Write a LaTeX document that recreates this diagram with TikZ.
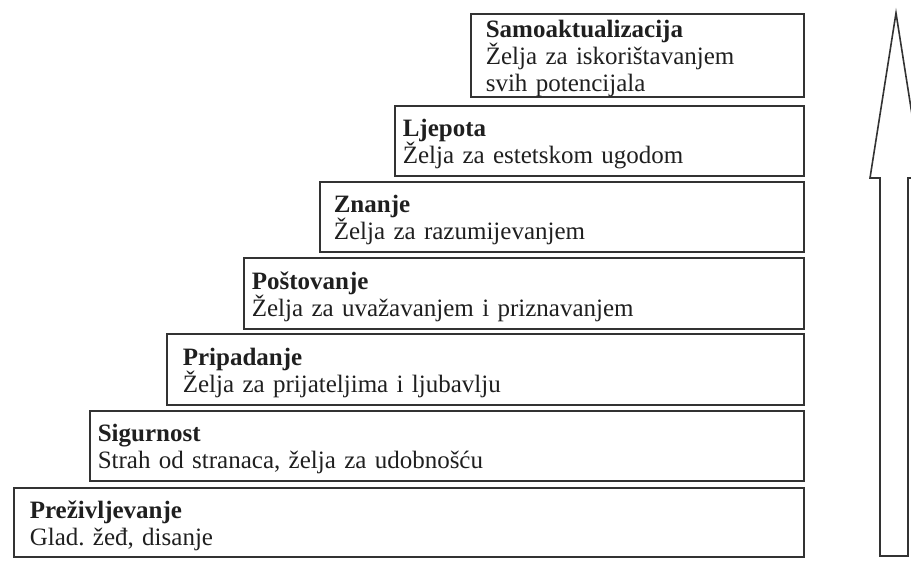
\documentclass[tikz,border=0pt]{standalone}
\usepackage{fontspec}
\setmainfont{Liberation Serif}
\usepackage{tikz}

\newcommand\stufefont{\fontsize{25}{27}\selectfont\frenchspacing\spaceskip=0.5em plus 0.1em minus 0.05em\relax}

\begin{document}
\begin{tikzpicture}[x=1pt, y=-1pt,
  stufe/.style={draw=black!80, line width=1.6pt, anchor=north west, align=left,
    inner ysep=0pt, text=black!88, font=\stufefont},
  strelica/.style={draw=black!80, line width=1.6pt, line join=miter}]

\useasboundingbox (0,0) rectangle (911,560);

% Les niveaux (boîtes en escalier)
\foreach \lx/\ty/\by/\pad/\naslov/\opis/\ime in {
  13/487/556/16/{Preživljevanje}/{Glad. žeđ, disanje}/N1,
  89/410/480/8/{Sigurnost}/{Strah od stranaca, želja za udobnošću}/N2,
  166/333/404/16/{Pripadanje}/{Želja za prijateljima i ljubavlju}/N3,
  243/257/328/8/{Poštovanje}/{Želja za uvažavanjem i priznavanjem}/N4,
  319/181/251/14/{Znanje}/{Želja za razumijevanjem}/N5,
  394/105/175/8/{Ljepota}/{Želja za estetskom ugodom}/N6}
{
  \pgfmathsetmacro{\sirina}{803-\lx-2*\pad}
  \pgfmathsetmacro{\visina}{\by-\ty}
  \node[stufe, inner xsep=\pad pt, text width=\sirina pt, minimum height=\visina pt]
    (\ime) at (\lx,\ty) {\rule{0pt}{0.95em}\textbf{\naslov}\\\opis};
}

% Le sommet (trois lignes)
\node[stufe, inner xsep=15pt, text width=303pt, minimum height=81pt] (N7) at (470,13)
  {\rule{0pt}{0.95em}\textbf{Samoaktualizacija}\\Želja za iskorištavanjem\\svih potencijala};

% La flèche à droite
\draw[strelica] (880,556) -- (880,178) -- (870,178) -- (896,13) -- (922,178)
  -- (908,178) -- (908,556) -- cycle;

\end{tikzpicture}
\end{document}
